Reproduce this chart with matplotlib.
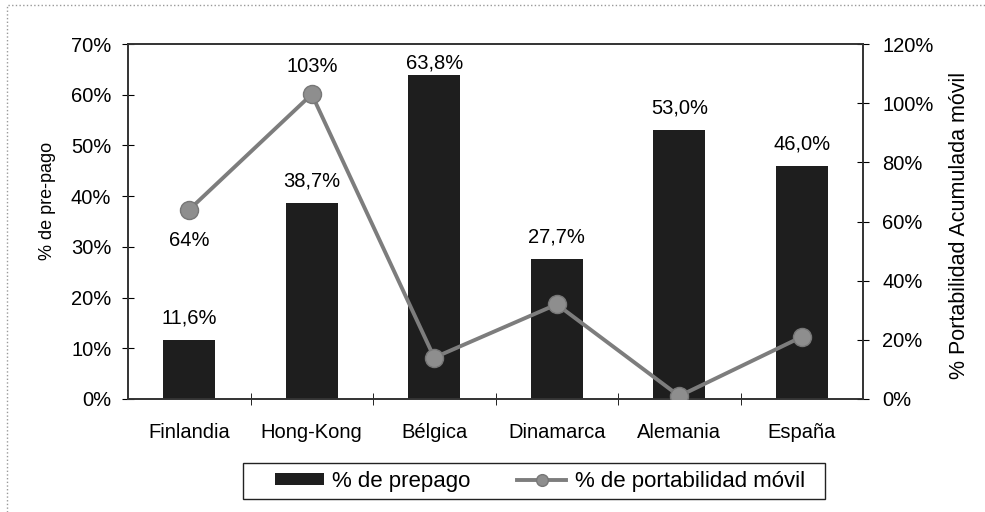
import matplotlib
matplotlib.use("Agg")
import matplotlib.pyplot as plt
from matplotlib.lines import Line2D
from matplotlib.patches import Rectangle
from matplotlib.ticker import FuncFormatter

plt.rcParams['font.family'] = ['Liberation Sans', 'DejaVu Sans']

paises = ['Finlandia', 'Hong-Kong', 'Bélgica', 'Dinamarca', 'Alemania', 'España']
prepago = [11.6, 38.7, 63.8, 27.7, 53.0, 46.0]
portabilidad = [64, 103, 14, 32, 1, 21]
etiquetas_prepago = ['11,6%', '38,7%', '63,8%', '27,7%', '53,0%', '46,0%']
etiquetas_port = {0: '64%', 1: '103%'}

W, H = 985, 512
fig = plt.figure(figsize=(W / 100, H / 100), dpi=100)
ax = fig.add_axes([128 / W, 1 - 399 / H, 735 / W, 355 / H])
ax2 = ax.twinx()

x = list(range(len(paises)))
bars = ax.bar(x, prepago, width=0.425, color='#1e1e1e', zorder=2)
ax.set_xlim(-0.5, len(paises) - 0.5)
ax.set_ylim(0, 70)
ax.set_yticks(range(0, 71, 10))
ax.yaxis.set_major_formatter(FuncFormatter(lambda v, p: '%d%%' % v))
ax.set_xticks(x)
ax.set_xticklabels(paises, fontsize=14.5)
ax.set_xticks([i + 0.5 for i in x[:-1]], minor=True)
ax.tick_params(axis='x', which='major', length=0, pad=17)
ax.tick_params(axis='x', which='minor', length=9, direction='inout')
ax.tick_params(axis='y', direction='inout', length=8, labelsize=14.5, pad=8)
ax.set_ylabel('% de pre-pago', fontsize=13)
ax.yaxis.set_label_coords(-0.098, 0.558)

# etiquetas de barras; la que no cabe arriba se baja (como en Excel)
for xi, v, t in zip(x, prepago, etiquetas_prepago):
    ax.text(xi, min(v + 3.2, 65.1), t, ha='center', va='baseline', fontsize=14.5)

ln, = ax2.plot(x, portabilidad, color='#7d7d7d', lw=2.8, marker='o', ms=13,
               markerfacecolor='#8e8e8e', markeredgecolor='#777777', zorder=3)
ax2.set_ylim(0, 120)
ax2.set_yticks(range(0, 121, 20))
ax2.yaxis.set_major_formatter(FuncFormatter(lambda v, p: '%d%%' % v))
ax2.tick_params(axis='y', direction='inout', length=8, labelsize=14.5, pad=10)
ax2.set_ylabel('% Portabilidad Acumulada móvil', fontsize=15.5)
ax2.yaxis.set_label_coords(1.117, 0.49)

ax2.annotate(etiquetas_port[0], (0, portabilidad[0]), xytext=(0, -26),
             textcoords='offset points', ha='center', va='baseline', fontsize=14.5)
ax2.annotate(etiquetas_port[1], (1, portabilidad[1]), xytext=(0, 16),
             textcoords='offset points', ha='center', va='baseline', fontsize=14.5)

for a in (ax, ax2):
    for s in a.spines.values():
        s.set_color('#333333')
        s.set_linewidth(1.2)

leg = fig.legend([bars, ln], ['% de prepago', '% de portabilidad móvil'],
                 loc='center', bbox_to_anchor=(540 / W, 1 - 481 / H), ncol=2,
                 fontsize=16, frameon=False, handlelength=2.2, handleheight=0.45,
                 handletextpad=0.4, columnspacing=2.1, markerscale=0.65)
fig.patches.append(Rectangle((243 / W, 1 - 499 / H), 582 / W, 36 / H,
                             transform=fig.transFigure, fill=False,
                             edgecolor='#222222', lw=1.0))

# borde punteado del recorte
fig.lines.append(Line2D([7 / W, 7 / W, 1], [0, 1 - 5 / H, 1 - 5 / H],
                        transform=fig.transFigure, color='#999999', lw=1, ls=':'))

fig.savefig('out.png', dpi=100)
